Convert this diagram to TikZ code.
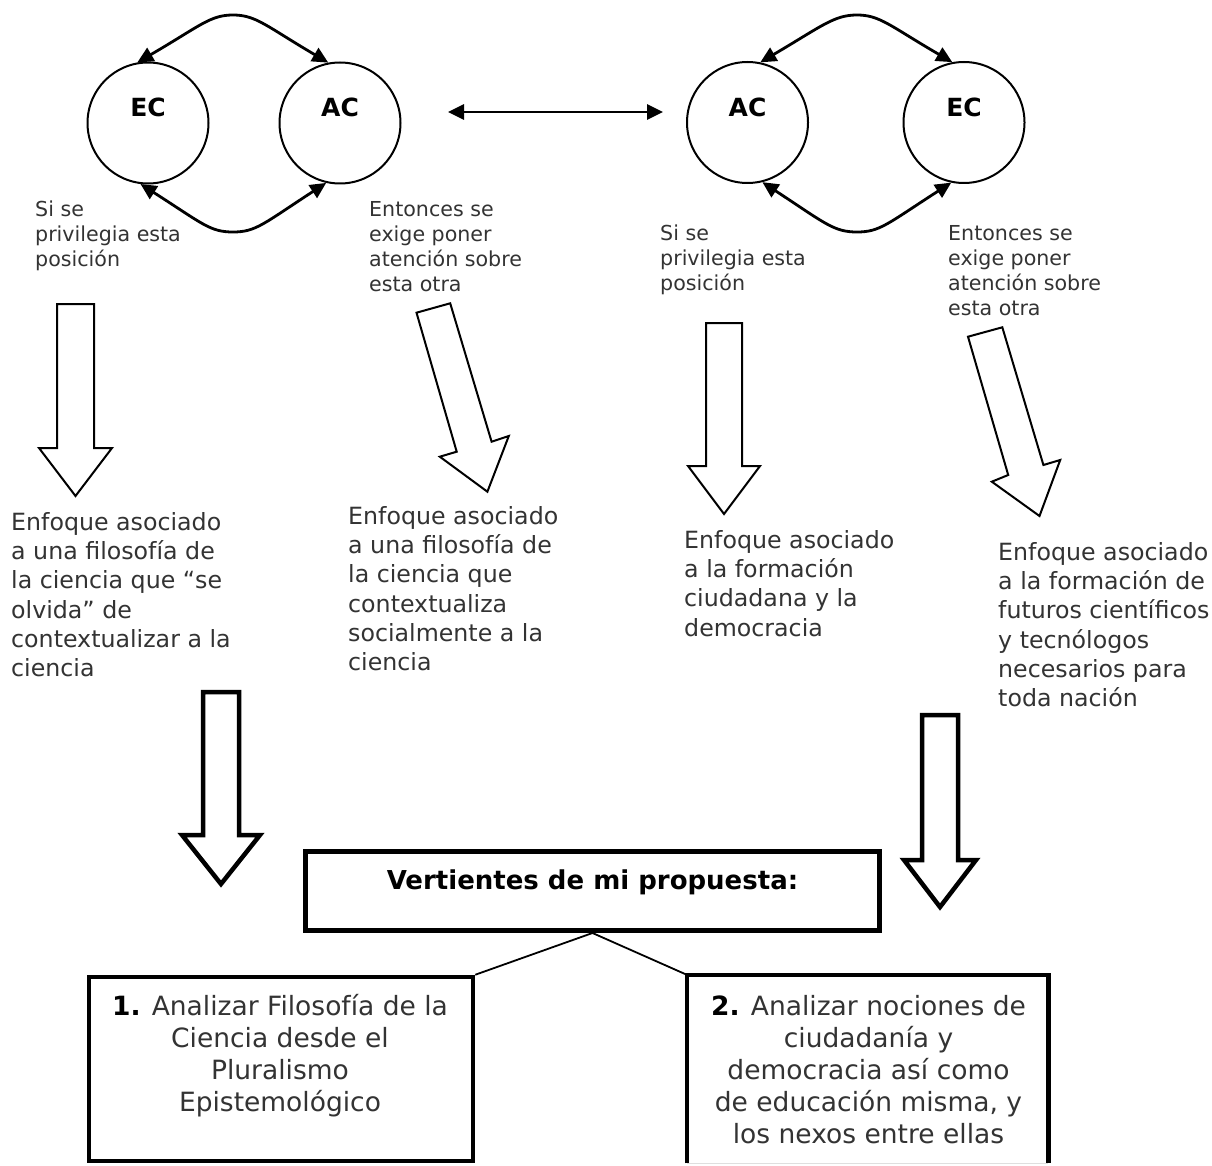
\documentclass[tikz,border=0pt]{standalone}
\usepackage{fontspec}
\setmainfont{DejaVu Sans}
\usetikzlibrary{arrows.meta}
\begin{document}
\begin{tikzpicture}[x=1pt,y=-1pt,
  ring/.style={circle,draw,line width=2pt,minimum size=121pt,inner sep=0pt,
    font=\fontsize{25}{30}\selectfont\bfseries,text height=18.2pt,text depth=30.2pt},
  twoway/.style={line width=2.8pt,
    {Triangle[length=16pt,width=15pt]}-{Triangle[length=16pt,width=15pt]}},
  thinblock/.style={draw,line width=2pt,line join=miter,fill=white},
  boldblock/.style={draw,line width=4.5pt,line join=miter,fill=white},
  smalltext/.style={font=\fontsize{20.6}{25}\selectfont,text=black!80,
    align=left,anchor=north west,inner sep=0pt},
  midtext/.style={font=\fontsize{23.7}{29.3}\selectfont,text=black!80,
    align=left,anchor=north west,inner sep=0pt},
  boxtext/.style={font=\fontsize{26.5}{32}\selectfont,text=black!80,
    align=center,anchor=north,inner sep=0pt},
  headbox/.style={draw,line width=5pt,minimum width=574pt,minimum height=79pt,
    inner sep=0pt,font=\fontsize{26}{31}\selectfont\bfseries,
    text height=19.8pt,text depth=22.8pt},
  itembox/.style={line width=4.5pt,minimum height=184pt,inner sep=0pt},
  tree/.style={line width=1.8pt}
]
\fill[white] (0,0) rectangle (1212,1166);
\useasboundingbox (0,0) rectangle (1212,1166);

% left pair of circles
\node[ring] (ecL) at (148,123) {EC};
\node[ring] (acL) at (340,123) {AC};
\draw[twoway] (ecL.100) .. controls (200,26) and (210,15) .. (233,15)
  .. controls (256,15) and (266,26) .. (acL.101);
\draw[twoway] (ecL.-97) .. controls (203,224) and (210,232) .. (233,232)
  .. controls (256,232) and (263,224) .. (acL.-103);

% right pair of circles
\node[ring] (acR) at (747.5,122.5) {AC};
\node[ring] (ecR) at (964,122.5) {EC};
\draw[twoway] (acR.78) .. controls (822,26) and (834,15) .. (857,15)
  .. controls (880,15) and (890,26) .. (ecR.101);
\draw[twoway] (acR.-76) .. controls (826,224) and (834,232) .. (857,232)
  .. controls (880,232) and (887,224) .. (ecR.-102);

% link between the two pairs
\coordinate (hl) at (448,112);
\coordinate (hr) at (663,112);
\draw[twoway] (hl) -- (hr);

% captions under the circles
\node[smalltext] (cap1) at (35,198.5) {\strut Si se\\privilegia esta\\posición};
\node[smalltext] (cap2) at (369,198.5) {\strut Entonces se\\exige poner\\atención sobre\\esta otra};
\node[smalltext] (cap3) at (660,222.5) {\strut Si se\\privilegia esta\\posición};
\node[smalltext] (cap4) at (948,222.5) {\strut Entonces se\\exige poner\\atención sobre\\esta otra};

% hollow arrows
\draw[thinblock] (57,304) -- (94,304) -- (94,448) -- (112,448) -- (75.5,496)
  -- (39,448) -- (57,448) -- cycle;
\draw[thinblock] (416.5,312.7) -- (450.2,303.3) -- (491.6,441.7) -- (508.8,436)
  -- (487.4,491.7) -- (439.8,456.7) -- (456.7,451.7) -- cycle;
\draw[thinblock] (706,323) -- (742,323) -- (742,466) -- (760,466) -- (724,514)
  -- (688,466) -- (706,466) -- cycle;
\draw[thinblock] (968,336.7) -- (1002.3,327.3) -- (1043.4,465) -- (1060.2,460)
  -- (1039.5,516) -- (991.8,481.7) -- (1008.2,475) -- cycle;

% approaches
\node[midtext] (ap1) at (11,509.5) {\strut Enfoque asociado\\a una filosofía de\\la ciencia que “se\\olvida” de\\contextualizar a la\\ciencia};
\node[midtext] (ap2) at (348,503.5) {\strut Enfoque asociado\\a una filosofía de\\la ciencia que\\contextualiza\\socialmente a la\\ciencia};
\node[midtext] (ap3) at (684,527.5) {\strut Enfoque asociado\\a la formación\\ciudadana y la\\democracia};
\node[midtext] (ap4) at (998,539.5) {\strut Enfoque asociado\\a la formación de\\futuros científicos\\y tecnólogos\\necesarios para\\toda nación};

% bold arrows
\draw[boldblock] (203,692) -- (239,692) -- (239,835) -- (260,835) -- (221,884)
  -- (182,835) -- (203,835) -- cycle;
\draw[boldblock] (922,715) -- (958,715) -- (958,860) -- (976,860) -- (940,907)
  -- (904,860) -- (922,860) -- cycle;

% proposal
\node[headbox] (vert) at (592.5,891) {Vertientes de mi propuesta:};
\node[itembox,draw,minimum width=384pt] (b1) at (281,1069) {};
\node[itembox,minimum width=357pt] (b2) at (867.5,1069) {};
\draw[line width=4.5pt,line join=miter] (b2.south west) -- (b2.north west)
  -- (b2.north east) -- (b2.south east);
\draw[gray!25,line width=1pt] (b2.south west) -- (b2.south east);
\draw[tree] (b1.north east) -- (vert.south) -- (b2.north west);

\node[boxtext] (t1) at (280,992.6) {\strut\textcolor{black}{\bfseries 1.} Analizar Filosofía de la\\Ciencia desde el\\Pluralismo\\Epistemológico};
\node[boxtext] (t2) at (868.5,992.6) {\strut\textcolor{black}{\bfseries 2.} Analizar nociones de\\ciudadanía y\\democracia así como\\de educación misma, y\\los nexos entre ellas};
\end{tikzpicture}
\end{document}
